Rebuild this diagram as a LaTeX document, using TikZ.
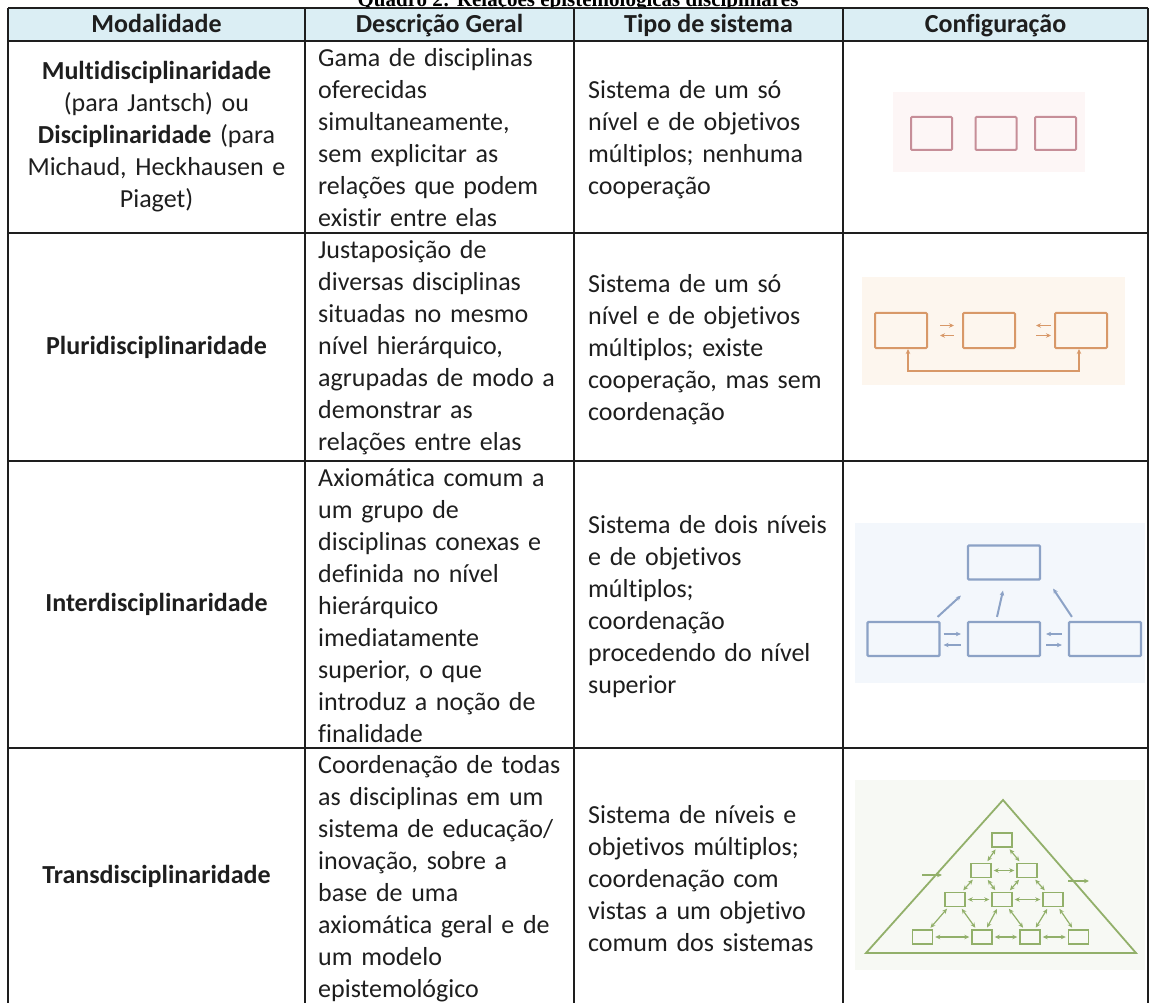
\documentclass[tikz,border=0pt]{standalone}
\usepackage{fontspec}
\setmainfont{Carlito}[Ligatures={NoCommon}]
\newfontfamily\titlefont{Liberation Serif}
\usetikzlibrary{arrows.meta,positioning,calc}

\definecolor{headblue}{RGB}{219,238,244}
\definecolor{texto}{RGB}{30,30,30}
\definecolor{linred}{RGB}{198,142,152}
\definecolor{linorange}{RGB}{216,152,104}
\definecolor{linblue}{RGB}{140,162,198}
\definecolor{lingreen}{RGB}{146,176,106}
\definecolor{bgred}{RGB}{253,246,246}
\definecolor{bgorange}{RGB}{253,246,238}
\definecolor{bgblue}{RGB}{243,247,252}
\definecolor{bggreen}{RGB}{247,249,244}

\tikzset{
  grade/.style={line width=1.5pt, texto},
  cell/.style={inner sep=0pt, text=texto, font=\fontsize{26}{32}\selectfont},
  head/.style={cell, anchor=base, font=\fontsize{26}{32}\selectfont\bfseries},
  modal/.style={cell, text width=285pt, align=center},
  desc/.style={cell, anchor=north west, text width=262pt, align=left},
  tipo/.style={cell, anchor=west, text width=250pt, align=left},
  titulo/.style={inner sep=0pt, anchor=base, font=\titlefont\fontsize{21}{24}\selectfont\bfseries},
  caixaverm/.style={draw=linred, line width=2pt, rounded corners=1pt, minimum width=41pt, minimum height=33pt, inner sep=0pt},
  caixalar/.style={draw=linorange, line width=2pt, rounded corners=1pt, minimum width=52pt, minimum height=35pt, inner sep=0pt},
  caixaazul/.style={draw=linblue, line width=2.2pt, rounded corners=1pt, minimum width=72pt, minimum height=34pt, inner sep=0pt},
  caixaverde/.style={draw=lingreen, line width=1.4pt, minimum width=20pt, minimum height=14pt, inner sep=0pt},
  setalar/.style={draw=linorange, line width=1.8pt},
  setaazul/.style={draw=linblue, line width=2pt},
  setaverde/.style={draw=lingreen, line width=1.2pt, shorten <=2pt, shorten >=2pt}
}

\begin{document}
\begin{tikzpicture}[x=1pt,y=-1pt,>={Stealth[length=5pt,width=4.5pt]}]
  \useasboundingbox (0,0) rectangle (1152,1003);

  % Title (cut at the top)
  \node[titulo] (titulo) at (578,7) {Quadro 2: Relações epistemológicas disciplinares};

  % Table grid
  \fill[headblue] (8,8) rectangle (1148,41);
  \foreach \y in {8,41,233,461,748,1004}
    \draw[grade] (8,\y) -- (1148,\y);
  \foreach \x in {8,305,574,843,1148}
    \draw[grade] (\x,8) -- (\x,1010);

  % Header
  \node[head] (hmod) at (156.5,33) {Modalidade};
  \node[head] (hdesc) at (439.5,33) {Descrição Geral};
  \node[head] (htipo) at (708.5,33) {Tipo de sistema};
  \node[head] (hconf) at (995.5,33) {Configuração};

  % Modalidade
  \node[modal] (mod1) at (156.5,137) {\textbf{Multidisciplinaridade}\\(para Jantsch) ou\\\textbf{Disciplinaridade} (para\\Michaud, Heckhausen e\\Piaget)};
  \node[modal] (mod2) at (156.5,347) {\textbf{Pluridisciplinaridade}};
  \node[modal] (mod3) at (156.5,604.5) {\textbf{Interdisciplinaridade}};
  \node[modal] (mod4) at (156.5,876) {\textbf{Transdisciplinaridade}};

  % Descricao Geral
  \node[desc] (desc1) at (318,43.6) {\strut Gama de disciplinas\\oferecidas\\simultaneamente,\\sem explicitar as\\relações que podem\\existir entre elas};
  \node[desc] (desc2) at (318,235.6) {\strut Justaposição de\\diversas disciplinas\\situadas no mesmo\\nível hierárquico,\\agrupadas de modo a\\demonstrar as\\relações entre elas};
  \node[desc] (desc3) at (318,463.6) {\strut Axiomática comum a\\um grupo de\\disciplinas conexas e\\definida no nível\\hierárquico\\imediatamente\\superior, o que\\introduz a noção de\\finalidade};
  \node[desc] (desc4) at (318,750.6) {\strut Coordenação de todas\\as disciplinas em um\\sistema de educação/\\inovação, sobre a\\base de uma\\axiomática geral e de\\um modelo\\epistemológico};

  % Tipo de sistema
  \node[tipo] (tipo1) at (588,137) {\strut Sistema de um só\\nível e de objetivos\\múltiplos; nenhuma\\cooperação};
  \node[tipo] (tipo2) at (588,347) {\strut Sistema de um só\\nível e de objetivos\\múltiplos; existe\\cooperação, mas sem\\coordenação};
  \node[tipo] (tipo3) at (588,604.5) {\strut Sistema de dois níveis\\e de objetivos\\múltiplos;\\coordenação\\procedendo do nível\\superior};
  \node[tipo] (tipo4) at (588,876) {\strut Sistema de níveis e\\objetivos múltiplos;\\coordenação com\\vistas a um objetivo\\comum dos sistemas};

  % Configuracao: multidisciplinaridade
  \fill[bgred] (893,92) rectangle (1085,172);
  \node[caixaverm] (r1) at (931.5,133.5) {};
  \node[caixaverm] (r2) at (996,133.5) {};
  \node[caixaverm] (r3) at (1055.5,133.5) {};

  % Configuracao: pluridisciplinaridade
  \fill[bgorange] (862,277) rectangle (1125,385);
  \node[caixalar] (o1) at (901,330.5) {};
  \node[caixalar] (o2) at (989,330.5) {};
  \node[caixalar] (o3) at (1081,330.5) {};
  \draw[setalar,->] ($(o1.east)+(12,-5)$) -- ($(o2.west)+(-8,-5)$);
  \draw[setalar,<-] ($(o1.east)+(12,5)$) -- ($(o2.west)+(-8,5)$);
  \draw[setalar,<-] ($(o2.east)+(20,-5)$) -- ($(o3.west)+(-3,-5)$);
  \draw[setalar,->] ($(o2.east)+(20,5)$) -- ($(o3.west)+(-3,5)$);
  \draw[setalar,<->] ($(o1.south)+(7,0)$) -- ++(0,22) -| ($(o3.south)+(-2,0)$);

  % Configuracao: interdisciplinaridade
  \fill[bgblue] (855,523) rectangle (1145,683);
  \node[caixaazul] (b0) at (1004,562.5) {};
  \node[caixaazul] (b1) at (903.5,639) {};
  \node[caixaazul] (b2) at (1004,639) {};
  \node[caixaazul] (b3) at (1105,639) {};
  \draw[setaazul,->] ($(b1.north east)+(-3,-4)$) -- ($(b0.south west)+(-6,15)$);
  \draw[setaazul,->] ($(b2.north)+(-7,-4)$) -- ($(b0.south)+(-1,10)$);
  \draw[setaazul,->] ($(b3.north west)+(4,-4)$) -- ($(b0.south east)+(12,8)$);
  \draw[setaazul,->] ($(b1.east)+(3,-5)$) -- ($(b2.west)+(-6,-5)$);
  \draw[setaazul,<-] ($(b1.east)+(3,6)$) -- ($(b2.west)+(-6,6)$);
  \draw[setaazul,<-] ($(b2.east)+(5,-5)$) -- ($(b3.west)+(-6,-5)$);
  \draw[setaazul,->] ($(b2.east)+(5,6)$) -- ($(b3.west)+(-6,6)$);

  % Configuracao: transdisciplinaridade
  \fill[bggreen] (855,780) rectangle (1145,970);
  \draw[lingreen, line width=1.8pt] (1003,800) -- (866,953) -- (1136,953) -- cycle;
  \node[caixaverde] (g1) at (1002,840) {};
  \node[caixaverde] (g21) at (981,870.5) {};
  \node[caixaverde] (g22) at (1027,870.5) {};
  \node[caixaverde] (g31) at (955,899.5) {};
  \node[caixaverde] (g32) at (1002,899.5) {};
  \node[caixaverde] (g33) at (1053,899.5) {};
  \node[caixaverde] (g41) at (922.5,937) {};
  \node[caixaverde] (g42) at (982,937) {};
  \node[caixaverde] (g43) at (1030,937) {};
  \node[caixaverde] (g44) at (1078.5,937) {};
  \draw[setaverde,<->] (g1) -- (g21);
  \draw[setaverde,<->] (g1) -- (g22);
  \draw[setaverde,<->] (g21) -- (g31);
  \draw[setaverde,<->] (g21) -- (g32);
  \draw[setaverde,<->] (g22) -- (g32);
  \draw[setaverde,<->] (g22) -- (g33);
  \draw[setaverde,<->] (g31) -- (g41);
  \draw[setaverde,<->] (g31) -- (g42);
  \draw[setaverde,<->] (g32) -- (g42);
  \draw[setaverde,<->] (g32) -- (g43);
  \draw[setaverde,<->] (g33) -- (g43);
  \draw[setaverde,<->] (g33) -- (g44);
  \draw[setaverde,<->] (g21) -- (g22);
  \draw[setaverde,<->] (g31) -- (g32);
  \draw[setaverde,<->] (g32) -- (g33);
  \draw[setaverde,<->] (g41) -- (g42);
  \draw[setaverde,<->] (g42) -- (g43);
  \draw[setaverde,<->] (g43) -- (g44);
  \coordinate (ent1) at (920,875);
  \coordinate (ent2) at (944,875);
  \coordinate (sai1) at (1066,881);
  \coordinate (sai2) at (1091,881);
  \draw[setaverde,->] (ent1) -- (ent2);
  \draw[setaverde,->] (sai1) -- (sai2);
\end{tikzpicture}
\end{document}
